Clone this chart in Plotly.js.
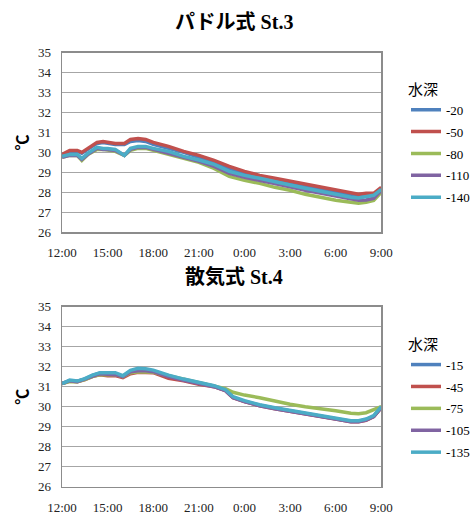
<!DOCTYPE html>
<html>
<head>
<meta charset="utf-8">
<script src="https://cdn.plot.ly/plotly-3.0.1.min.js"></script>
<style>html,body{margin:0;padding:0;background:#fff;}#chart{width:475px;height:515px;}</style>
</head>
<body>
<div id="chart"></div>
<script>
// hours since 12:00
const tickVals = [0, 3, 6, 9, 12, 15, 18, 21];
const tickLabels = ["12:00", "15:00", "18:00", "21:00", "0:00", "3:00", "6:00", "9:00"];

// St.3 (paddle)
const timesTop = [0,0.5,1,1.3,1.7,2.3,2.7,3,3.5,4.1,4.5,5,5.5,6,7,8,9,10,11,12,13,14,15,16,17,18,19,19.5,20,20.5,21];
const top_m20  = [29.85,30.05,30.05,29.95,30.15,30.45,30.5,30.45,30.4,30.4,30.55,30.6,30.55,30.4,30.2,30.0,29.75,29.5,29.2,28.95,28.75,28.6,28.45,28.3,28.15,28.0,27.85,27.8,27.85,27.9,28.2];
const top_m50  = [29.9,30.1,30.1,30.0,30.2,30.5,30.55,30.5,30.45,30.45,30.65,30.7,30.65,30.5,30.3,30.05,29.85,29.6,29.3,29.05,28.85,28.7,28.55,28.4,28.25,28.1,27.95,27.9,27.95,27.95,28.25];
const top_m80  = [29.75,29.85,29.85,29.6,29.9,30.15,30.15,30.1,30.05,29.85,30.1,30.2,30.2,30.1,29.9,29.7,29.5,29.2,28.8,28.6,28.45,28.25,28.1,27.9,27.75,27.6,27.5,27.45,27.5,27.6,28.0];
const top_m110 = [29.75,29.85,29.85,29.65,29.9,30.2,30.15,30.15,30.1,29.85,30.15,30.25,30.25,30.15,29.95,29.75,29.55,29.3,28.95,28.75,28.6,28.45,28.28,28.1,27.95,27.8,27.65,27.6,27.62,27.7,28.1];
const top_m140 = [29.8,29.9,29.9,29.7,29.95,30.25,30.2,30.2,30.15,29.85,30.2,30.3,30.3,30.2,30.05,29.8,29.62,29.4,29.05,28.85,28.7,28.55,28.37,28.2,28.05,27.9,27.75,27.72,27.78,27.85,28.15];
const topNames = ["-20","-50","-80","-110","-140"];

// St.4 (aeration)
const timesBot = [0,0.5,1,1.5,2,2.5,3,3.5,4,4.5,5,5.5,6,7,8,9,10,10.75,11.25,12,13,14,15,16,17,18,19,19.5,20,20.5,21];
const bot_m15  = [31.15,31.3,31.27,31.38,31.56,31.68,31.66,31.65,31.52,31.78,31.85,31.85,31.78,31.52,31.35,31.17,31.02,30.82,30.47,30.27,30.07,29.92,29.8,29.64,29.52,29.4,29.27,29.27,29.35,29.52,29.97];
const bot_m45  = [31.15,31.28,31.25,31.35,31.52,31.6,31.55,31.55,31.45,31.65,31.72,31.72,31.7,31.42,31.3,31.12,31.0,30.8,30.45,30.25,30.05,29.9,29.78,29.63,29.5,29.38,29.25,29.25,29.32,29.5,29.95];
const bot_m75  = [31.15,31.25,31.25,31.35,31.5,31.6,31.6,31.6,31.5,31.7,31.75,31.75,31.72,31.55,31.38,31.2,31.05,30.9,30.72,30.58,30.45,30.28,30.12,30.0,29.92,29.8,29.67,29.65,29.7,29.83,30.0];
const bot_m105 = [31.15,31.3,31.25,31.38,31.55,31.65,31.62,31.6,31.5,31.75,31.8,31.8,31.75,31.5,31.32,31.15,31.0,30.8,30.45,30.25,30.05,29.9,29.78,29.62,29.5,29.38,29.25,29.25,29.33,29.5,29.95];
const bot_m135 = [31.15,31.33,31.28,31.4,31.58,31.7,31.7,31.7,31.55,31.82,31.92,31.9,31.83,31.58,31.38,31.2,31.05,30.85,30.5,30.3,30.1,29.95,29.82,29.67,29.55,29.42,29.3,29.3,29.38,29.55,30.0];
const botNames = ["-15","-45","-75","-105","-135"];

const colors = ["#4F81BD","#C0504D","#9BBB59","#8064A2","#4BACC6"];

const traces = [];
[top_m20, top_m50, top_m80, top_m110, top_m140].forEach((ys, i) => {
  traces.push({x: timesTop, y: ys, name: topNames[i], type: "scatter", mode: "lines",
    line: {color: colors[i], width: 3.5}, xaxis: "x", yaxis: "y", legend: "legend", legendgroup: "t" + i});
});
[bot_m15, bot_m45, bot_m75, bot_m105, bot_m135].forEach((ys, i) => {
  traces.push({x: timesBot, y: ys, name: botNames[i], type: "scatter", mode: "lines",
    line: {color: colors[i], width: 3.5}, xaxis: "x2", yaxis: "y2", legend: "legend2", legendgroup: "b" + i});
});

const serif = "Liberation Serif, Times New Roman, Times, DejaVu Serif, serif";
const gothic = "Liberation Serif, Times New Roman, Noto Sans CJK JP, serif";

function xax(anchor) {
  return {domain: [0.1326, 0.8147], range: [0, 21], tickvals: tickVals, ticktext: tickLabels,
    showgrid: false, zeroline: false, showline: true, mirror: true, linecolor: "#8C8C8C", linewidth: 1.5,
    ticks: "", ticklabelstandoff: 8, tickfont: {family: serif, size: 13, color: "#222"}, anchor: anchor, fixedrange: true};
}
function yax(domain, anchor) {
  return {domain: domain, range: [26, 35], dtick: 1, tick0: 26,
    showgrid: true, gridcolor: "#A6A6A6", gridwidth: 1.5, zeroline: false,
    showline: true, mirror: true, linecolor: "#8C8C8C", linewidth: 1.5, ticks: "", ticklabelstandoff: 7,
    tickfont: {family: serif, size: 13, color: "#222"}, anchor: anchor,
    title: {text: "<b>℃</b>", font: {family: "Noto Sans CJK JP", size: 16, color: "#000"}, standoff: 5},
    fixedrange: true};
}
function leg(y) {
  return {x: 0.868, y: y, xanchor: "left", yanchor: "top", bgcolor: "rgba(0,0,0,0)",
    font: {family: serif, size: 13, color: "#000"}, itemwidth: 30, tracegroupgap: 2,
    title: {text: "水深", font: {family: "Noto Sans CJK JP", size: 15, color: "#000"}}};
}

const layout = {
  width: 475, height: 515, margin: {l: 0, r: 0, t: 0, b: 0},
  paper_bgcolor: "#fff", plot_bgcolor: "#fff", showlegend: true,
  xaxis: xax("y"), yaxis: yax([0.549, 0.898], "x"),
  xaxis2: xax("y2"), yaxis2: yax([0.055, 0.4045], "x2"),
  legend: leg(0.854), legend2: leg(0.359),
  annotations: [
    {text: "<b>パドル式 St.3</b>", xref: "paper", yref: "paper", x: 0.5, y: 1 - 22/515, xanchor: "center", yanchor: "middle",
     showarrow: false, font: {family: gothic, size: 20, color: "#000"}},
    {text: "<b>散気式 St.4</b>", xref: "paper", yref: "paper", x: 0.5, y: 1 - 277/515, xanchor: "center", yanchor: "middle",
     showarrow: false, font: {family: gothic, size: 20, color: "#000"}}
  ]
};

Plotly.newPlot("chart", traces, layout, {displayModeBar: false, staticPlot: true});
</script>
</body>
</html>
